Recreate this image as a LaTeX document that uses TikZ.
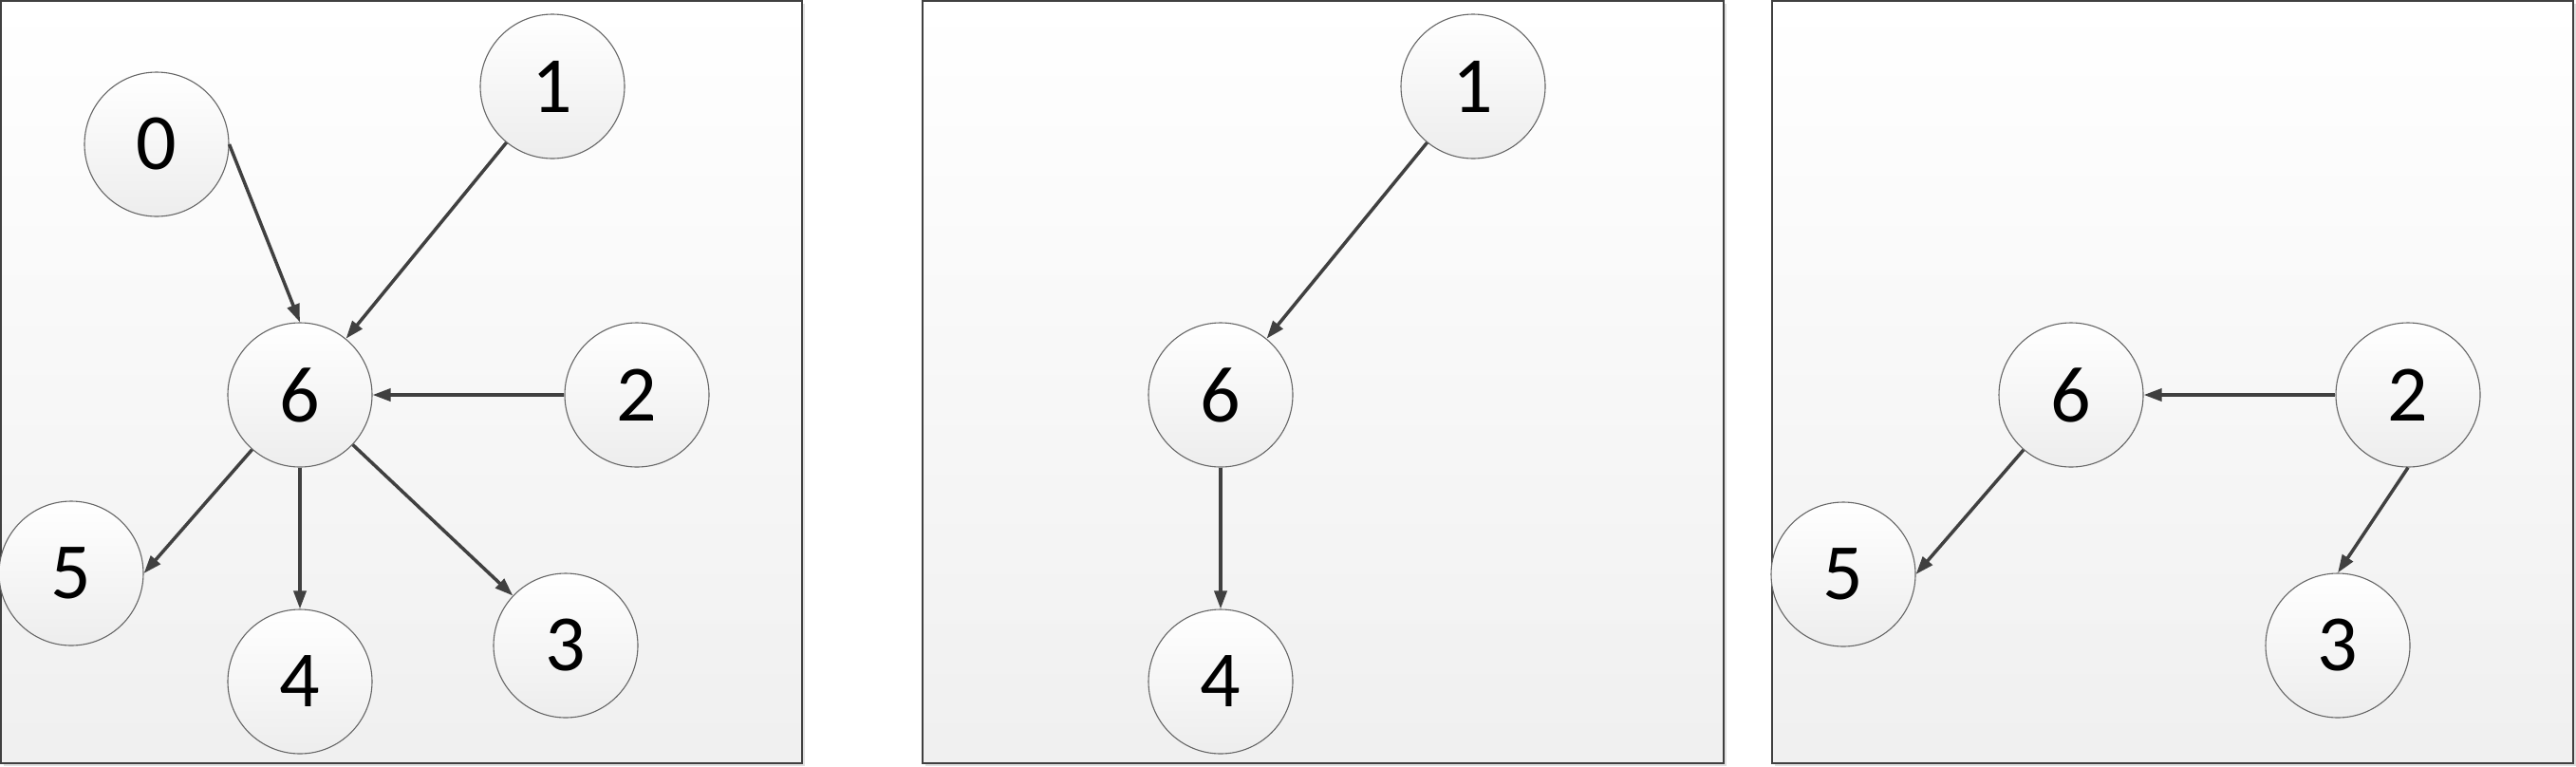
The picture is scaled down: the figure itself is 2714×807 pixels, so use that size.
\documentclass[tikz,border=0pt]{standalone}
\usepackage{fontspec}
\setmainfont{Carlito}
\usetikzlibrary{arrows.meta}
\tikzset{
  >={Triangle[length=19pt,width=13pt]},
  panel/.style={draw=black!75,line width=2pt,top color=white,bottom color=black!6},
  vert/.style={circle,draw=black!60,line width=1.1pt,minimum size=152pt,inner sep=0pt,
    top color=white,bottom color=black!7,font=\fontsize{84}{96}\selectfont},
  edge/.style={->,draw=black!75,line width=3.5pt}
}

\begin{document}
\begin{tikzpicture}[x=1pt,y=-1pt]
  \useasboundingbox (0,0) rectangle (2714,807);
  %--- Panels -------------------------------------------------------------------
  \fill[black!12] (4,4) rectangle (848,807);
  \fill[black!12] (975,4) rectangle (1819,807);
  \fill[black!12] (1870,4) rectangle (2714,807);
  \path[panel] (1,1) rectangle (845,804);
  \path[panel] (972,1) rectangle (1816,804);
  \path[panel] (1867,1) rectangle (2711,804);

  %--- Left panel: whole graph ---------------------------------------------------
  \node[vert] (A0) at (165,152) {0};
  \node[vert] (A1) at (582,91)  {1};
  \node[vert] (A6) at (316,416) {6};
  \node[vert] (A2) at (671,416) {2};
  \node[vert] (A5) at (75,604)  {5};
  \node[vert] (A4) at (316,718) {4};
  \node[vert] (A3) at (596,680) {3};

  \draw[edge] (A0.east) -- (A6.north);
  \draw[edge] (A1) -- (A6);
  \draw[edge] (A2.west) -- (A6.east);
  \draw[edge] (A6) -- (A5.east);
  \draw[edge] (A6.south) -- (A4.north);
  \draw[edge] (A6) -- (A3);

  %--- Middle panel ------------------------------------------------------------
  \node[vert] (B1) at (1552,91)  {1};
  \node[vert] (B6) at (1286,416) {6};
  \node[vert] (B4) at (1286,718) {4};

  \draw[edge] (B1) -- (B6);
  \draw[edge] (B6.south) -- (B4.north);

  %--- Right panel -------------------------------------------------------------
  \node[vert] (C6) at (2182,416) {6};
  \node[vert] (C2) at (2537,416) {2};
  \node[vert] (C5) at (1942,605) {5};
  \node[vert] (C3) at (2463,680) {3};

  \draw[edge] (C2.west) -- (C6.east);
  \draw[edge] (C6) -- (C5.east);
  \draw[edge] (C2.south) -- (C3.north);

\end{tikzpicture}
\end{document}
